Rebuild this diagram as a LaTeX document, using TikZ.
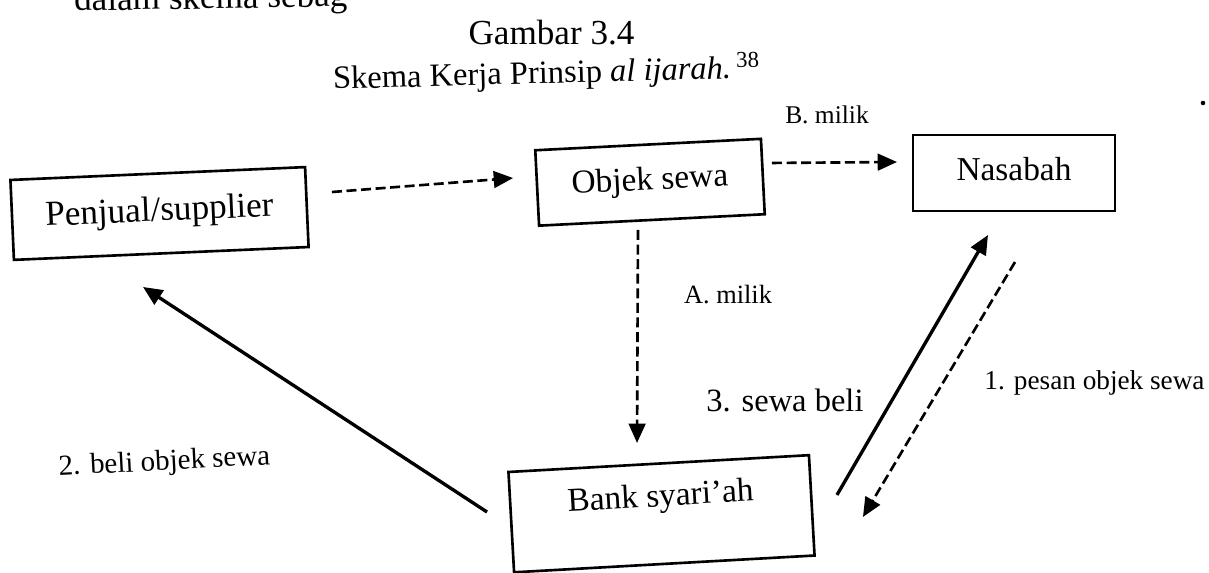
\documentclass[tikz,border=0pt]{standalone}
\usepackage{fontspec}
\setmainfont{Liberation Serif}
\usetikzlibrary{arrows.meta,calc}
\newcommand{\fsz}[1]{\fontsize{#1}{#1}\selectfont}

\begin{document}
\begin{tikzpicture}[x=0.02cm,y=-0.02cm,
  box/.style={draw,line width=1.5pt,inner sep=0pt,text height=0.45cm,text depth=0.15cm,font=\fsz{19pt}},
  flow/.style={line width=1.9pt,-{Triangle[length=11pt,width=9.5pt]}},
  dflow/.style={line width=1.5pt,dash pattern=on 5.7pt off 2.6pt,-{Triangle[length=11pt,width=9.5pt]}},
  lbl/.style={inner sep=0pt}]

\clip (0,0) rectangle (1209,573);

% heading lines
\node[lbl,anchor=base west,font=\fsz{20pt},rotate=1] (intro) at (74,11) {dalam skema sebag};
\node[lbl,font=\fsz{20pt}] (fig) at (551.5,33) {Gambar 3.4};
\node[lbl,anchor=base west,font=\fsz{18.5pt},rotate=1.5] (title) at (333,89)
  {Skema Kerja Prinsip \textit{al ijarah.}\,\textsuperscript{38}};

% parties and object
\node[box,minimum width=5.9cm,minimum height=1.6cm,rotate=2.5,font=\fsz{20pt}] (pen) at (159.5,213.5) {Penjual/supplier};
\node[box,minimum width=4.52cm,minimum height=1.51cm,rotate=2.9] (obj) at (650,182.25) {Objek sewa};
\node[box,minimum width=4.04cm,minimum height=1.52cm] (nas) at (1014,173) {Nasabah};
\node[box,minimum width=6.02cm,minimum height=2.01cm,rotate=3.2,text depth=0.75cm] (bank) at (661.5,513.75) {Bank syari’ah};

% flows
\draw[dflow] ($(pen.east)+(23.8,-15)$) -- ($(obj.west)+(-22.8,-10)$);
\draw[dflow] ($(obj.east)+(7.8,-13.5)$) -- ($(nas.west)+(-14.7,-11)$);
\draw[dflow] ($(obj.south)+(-14,8.7)$) -- ($(bank.north)+(-21.6,-19.3)$);
\draw[flow]  ($(bank.east)+(23.9,-10.3)$) -- ($(nas.south)+(-26,22.7)$);
\draw[dflow] ($(nas.south)+(1,49.7)$) -- ($(bank.east)+(49.9,11.7)$);
\draw[flow]  ($(bank.west)+(-22.9,-10.2)$) -- ($(pen.south)+(-18.3,32.2)$);

% flow labels
\node[lbl,font=\fsz{14.5pt}] (lb) at (827,115) {B. milik};
\node[lbl,font=\fsz{15pt}] (la) at (728,295) {A. milik};
\node[lbl,font=\fsz{18.5pt}] (l3) at (785,400) {3. sewa beli};
\node[lbl,font=\fsz{15.5pt}] (l1) at (1094.5,383) {1. pesan objek sewa};
\node[lbl,font=\fsz{16.5pt},rotate=3] (l2) at (164.5,463) {2. beli objek sewa};

% speck on the page
\fill (1203,103) circle[radius=1.3pt];
\end{tikzpicture}
\end{document}
